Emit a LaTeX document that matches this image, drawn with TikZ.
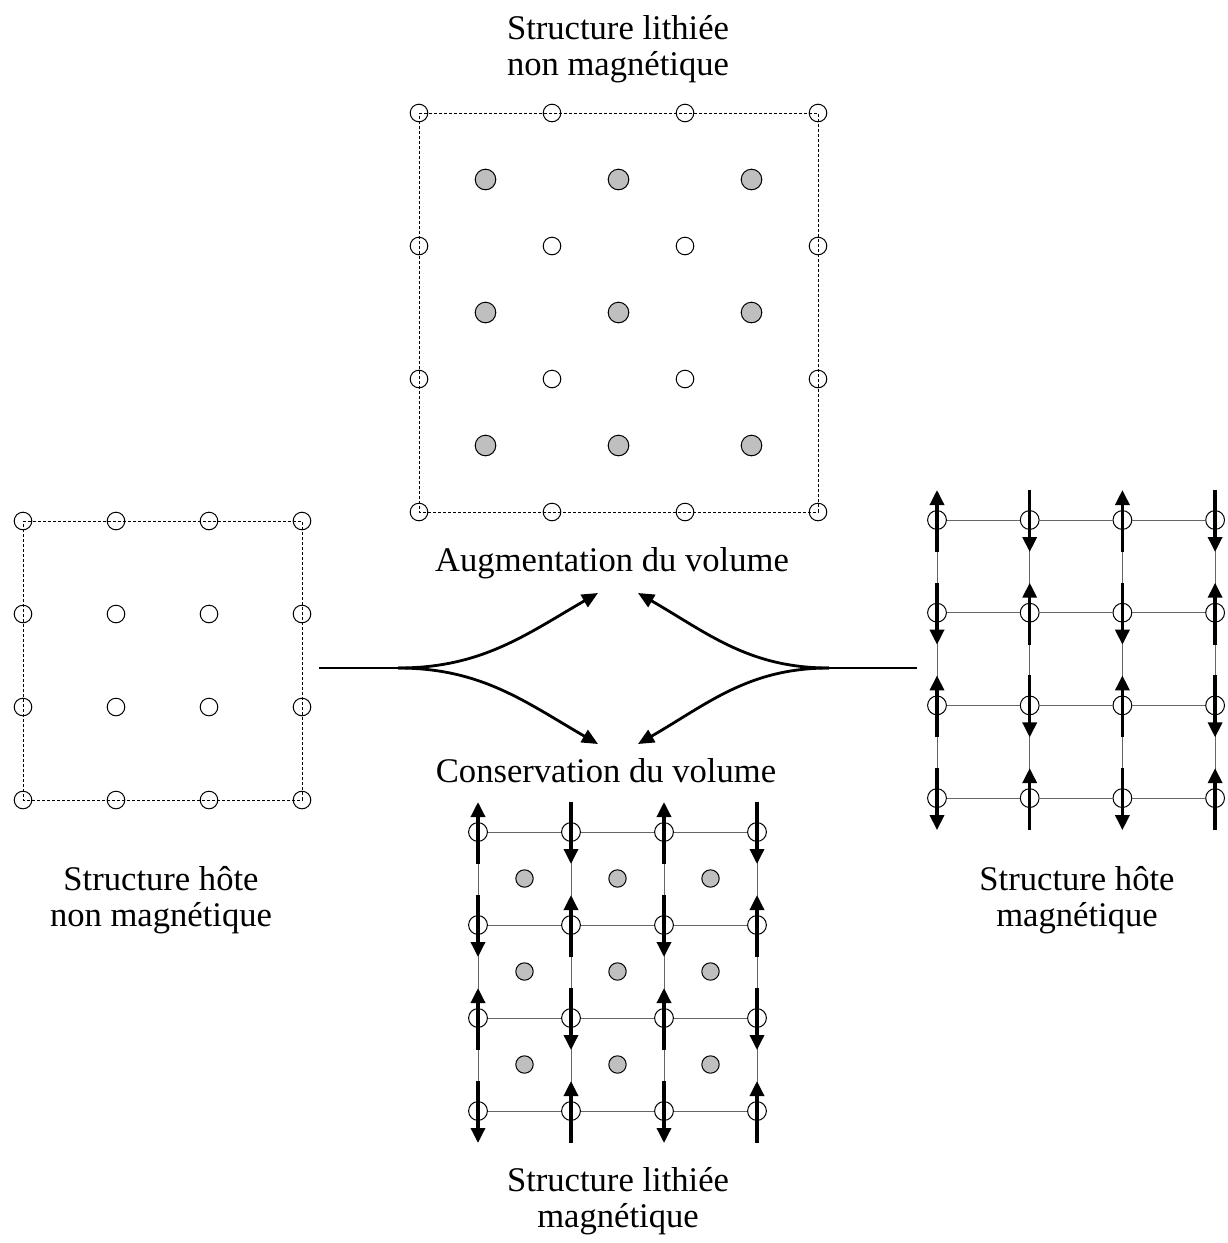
\documentclass[tikz,border=0pt]{standalone}
\usepackage{fontspec}
\setmainfont{Liberation Serif}
\usetikzlibrary{arrows.meta}

\begin{document}
\begin{tikzpicture}[x=0.5pt,y=-0.5pt,
  font=\fontsize{17.3}{17.6}\selectfont,
  site/.style={draw,circle,inner sep=0pt,minimum size=8.8pt,line width=0.5pt},
  msite/.style={site,fill=white,minimum size=9.4pt},
  li/.style={draw,circle,fill=black!25,inner sep=0pt,minimum size=10.3pt,line width=0.5pt},
  mli/.style={li,minimum size=8.7pt},
  cell/.style={dash pattern=on 1.5pt off 1pt,line width=0.5pt},
  bond/.style={draw=black!60,line width=0.5pt},
  spin/.style={line width=1.7pt,-{Triangle[length=7.5pt,width=7pt]}},
  arr/.style={line width=1.4pt,-{Triangle[length=8pt,width=7pt]}},
  lbl/.style={align=center,anchor=base,inner sep=0pt},
]
\useasboundingbox (0,0) rectangle (1227,1243);

% host structure, non magnetic
\foreach \i in {0,...,3} \foreach \j in {0,...,3}
  \node[site] (h\i\j) at ({23+93*\i},{521+93*\j}) {};
\draw[cell] (h00.center) -- (h30.center) -- (h33.center) -- (h03.center) -- cycle;

% lithiated structure, non magnetic (larger cell)
\foreach \i in {0,...,3} \foreach \j in {0,...,3}
  \node[site] (t\i\j) at ({419+133*\i},{113+133*\j}) {};
\foreach \i in {0,1,2} \foreach \j in {0,1,2}
  \node[li] (tl\i\j) at ({485.5+133*\i},{179.5+133*\j}) {};
\draw[cell] (t00.center) -- (t30.center) -- (t33.center) -- (t03.center) -- cycle;

% magnetic host structure and magnetic lithiated structure
\foreach \i in {0,...,3} \foreach \j in {0,...,3} {
  \node[msite] (r\i\j) at ({937+92.7*\i},{520+92.7*\j}) {};
  \node[msite] (b\i\j) at ({478+93*\i},{832+93*\j}) {};
}
\foreach \i in {0,1,2} \foreach \j in {0,1,2}
  \node[mli] (bl\i\j) at ({524.5+93*\i},{878.5+93*\j}) {};
\foreach \p in {r,b} {
  \foreach \a/\b in {0/1,1/2,2/3} \foreach \j in {0,...,3} {
    \draw[bond] (\p\a\j) -- (\p\b\j);
    \draw[bond] (\p\j\a) -- (\p\j\b);
  }
  \foreach \i in {0,...,3} \foreach \j in {0,...,3} {
    \ifodd\numexpr\i+\j\relax
      \draw[spin] ([yshift=15pt]\p\i\j.center) -- ([yshift=-16pt]\p\i\j.center);
    \else
      \draw[spin] ([yshift=-16pt]\p\i\j.center) -- ([yshift=15pt]\p\i\j.center);
    \fi
  }
}

% labels (base = last line)
\node[lbl] (top) at (618,75) {Structure lithiée\\non magnétique};
\node[lbl] (aug) at (612,571) {Augmentation du volume};
\node[lbl] (cons) at (606,782) {Conservation du volume};
\node[lbl] (left) at (161,926) {Structure hôte\\non magnétique};
\node[lbl] (right) at (1077,926) {Structure hôte\\magnétique};
\node[lbl] (bot) at (618,1227) {Structure lithiée\\magnétique};

% transformation arrows
\coordinate (ls) at (319,668);
\coordinate (jl) at (398,668);
\coordinate (rs) at (917,668);
\coordinate (jr) at (829,668);
\coordinate (augL) at (598,593);
\coordinate (augR) at (638,593);
\coordinate (consL) at (598,744);
\coordinate (consR) at (638,744);
\draw[line width=1.4pt] (ls) -- (jl);
\draw[arr] (jl) to[out=0,in=210] (augL);
\draw[arr] (jl) to[out=0,in=150] (consL);
\draw[line width=1.4pt] (rs) -- (jr);
\draw[arr] (jr) to[out=180,in=-30] (augR);
\draw[arr] (jr) to[out=180,in=30] (consR);
\end{tikzpicture}
\end{document}
